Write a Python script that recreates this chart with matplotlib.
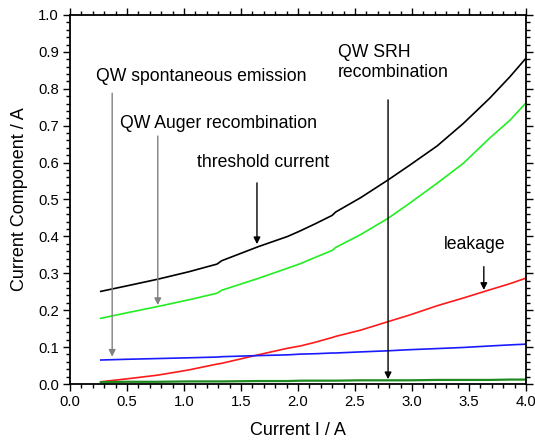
import matplotlib
matplotlib.use("Agg")
import matplotlib.pyplot as plt
from matplotlib.ticker import MultipleLocator, FormatStrFormatter

plt.rcParams['font.family'] = ['Liberation Sans', 'DejaVu Sans']

current = [0.27, 0.5, 0.77, 1.04, 1.29, 1.33, 1.65, 1.91, 2.02, 2.15, 2.30, 2.33, 2.55, 2.79, 2.98, 3.22, 3.45, 3.68, 3.86, 4.0]
threshold = [0.251, 0.266, 0.284, 0.304, 0.325, 0.334, 0.372, 0.400, 0.415, 0.434, 0.457, 0.466, 0.505, 0.553, 0.593, 0.645, 0.706, 0.774, 0.833, 0.883]
auger = [0.178, 0.193, 0.210, 0.228, 0.246, 0.254, 0.286, 0.314, 0.326, 0.343, 0.362, 0.370, 0.405, 0.449, 0.490, 0.544, 0.598, 0.666, 0.715, 0.762]
leakage = [0.006, 0.014, 0.024, 0.038, 0.054, 0.056, 0.079, 0.097, 0.103, 0.113, 0.126, 0.129, 0.146, 0.169, 0.187, 0.212, 0.233, 0.255, 0.272, 0.287]
spontaneous = [0.065, 0.067, 0.069, 0.071, 0.073, 0.074, 0.077, 0.079, 0.081, 0.082, 0.084, 0.084, 0.087, 0.090, 0.093, 0.096, 0.099, 0.103, 0.106, 0.108]
srh = [0.005, 0.006, 0.006, 0.007, 0.007, 0.007, 0.008, 0.008, 0.009, 0.009, 0.009, 0.009, 0.010, 0.010, 0.010, 0.011, 0.011, 0.011, 0.012, 0.012]

fig = plt.figure(figsize=(5.35, 4.43), dpi=100)
ax = fig.add_axes([70/535, 1 - 384/443, 456/535, 369/443])

ax.plot(current, threshold, color='black', lw=1.2)
ax.plot(current, auger, color='#22ee22', lw=1.2)
ax.plot(current, leakage, color='#ff1a1a', lw=1.2)
ax.plot(current, spontaneous, color='#1a1aff', lw=1.2)
ax.plot(current, srh, color='#1f8a1f', lw=1.6)

ax.set_xlim(0, 4)
ax.set_ylim(0, 1)
ax.xaxis.set_major_locator(MultipleLocator(0.5))
ax.xaxis.set_minor_locator(MultipleLocator(0.1))
ax.yaxis.set_major_locator(MultipleLocator(0.1))
ax.yaxis.set_minor_locator(MultipleLocator(0.02))
ax.xaxis.set_major_formatter(FormatStrFormatter('%.1f'))
ax.yaxis.set_major_formatter(FormatStrFormatter('%.1f'))
ax.tick_params(which='both', direction='out', top=True, right=True, width=1.0, labelsize=10.7)
ax.tick_params(which='major', length=5, pad=3)
ax.tick_params(which='minor', length=3)
for s in ax.spines.values():
    s.set_linewidth(1.3)

ax.set_xlabel('Current I / A', fontsize=13, labelpad=9)
ax.set_ylabel('Current Component / A', fontsize=13, labelpad=7)

def arrow(x, y0, y1, color):
    ax.annotate('', xy=(x, y1), xytext=(x, y0),
                arrowprops=dict(arrowstyle='-|>', color=color, lw=1.0,
                                mutation_scale=10, shrinkA=0, shrinkB=0))

fs = 12.7
ax.text(0.228, 0.832, 'QW spontaneous emission', fontsize=fs, ha='left', va='center')
ax.text(0.439, 0.707, 'QW Auger recombination', fontsize=fs, ha='left', va='center')
ax.text(1.114, 0.599, 'threshold current', fontsize=fs, ha='left', va='center')
ax.text(2.348, 0.871, 'QW SRH\nrecombination', fontsize=fs, ha='left', va='center', linespacing=1.2)
ax.text(3.28, 0.379, 'leakage', fontsize=fs, ha='left', va='center')

arrow(0.37, 0.788, 0.074, '#808080')
arrow(0.77, 0.672, 0.214, '#808080')
arrow(1.64, 0.545, 0.379, 'black')
arrow(2.79, 0.770, 0.013, 'black')
arrow(3.63, 0.318, 0.255, 'black')

fig.savefig('out.png', dpi=100)
